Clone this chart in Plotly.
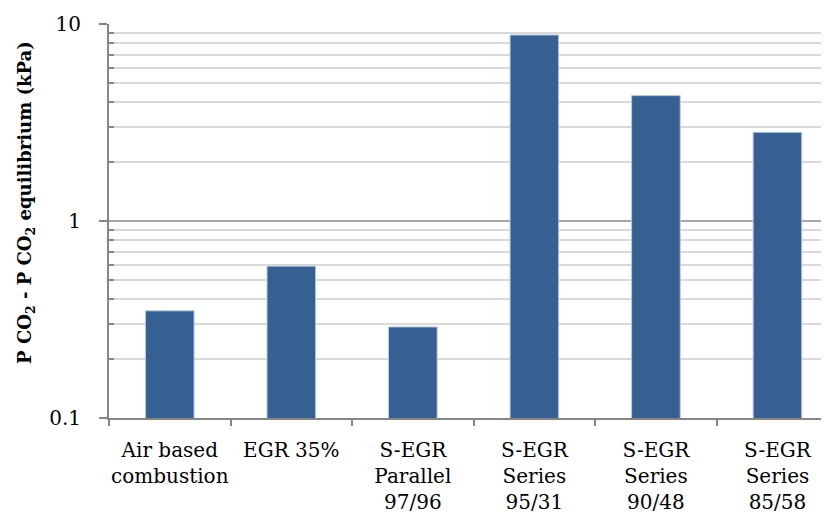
import plotly.graph_objects as go

categories = ["Air based<br>combustion", "EGR 35%", "S-EGR<br>Parallel<br>97/96",
              "S-EGR<br>Series<br>95/31", "S-EGR<br>Series<br>90/48", "S-EGR<br>Series<br>85/58"]
values = [0.35, 0.59, 0.29, 8.8, 4.33, 2.82]
major_ticks = [0.1, 1, 10]
major_labels = ["0.1", "1", "10"]
minor_ticks = [0.2, 0.3, 0.4, 0.5, 0.6, 0.7, 0.8, 0.9, 2, 3, 4, 5, 6, 7, 8, 9]
y_title = "<b>P CO<sub>2</sub> - P CO<sub>2</sub> equilibrium (kPa)</b>"

font_family = "DejaVu Serif"

fig = go.Figure(go.Bar(
    x=categories, y=values,
    marker=dict(color="rgb(54,96,146)", line=dict(color="rgb(185,201,221)", width=1)),
    width=0.4,
))

fig.update_layout(
    width=829, height=505,
    margin=dict(l=101, r=0, t=16, b=95),
    plot_bgcolor="white", paper_bgcolor="white",
    showlegend=False,
    font=dict(family=font_family, size=20, color="black"),
)
fig.add_annotation(
    text=y_title, xref="paper", yref="paper", x=-0.114, y=0.546,
    xanchor="center", yanchor="middle", textangle=-90, showarrow=False,
    font=dict(family=font_family, size=18, color="black"),
)
fig.update_xaxes(
    range=[-0.5, 5.49], automargin=False,
    showline=True, linecolor="#868686", linewidth=2,
    ticks="outside", tickson="boundaries", ticklen=6, tickcolor="#868686", tickwidth=2,
    showgrid=False, tickangle=0,
    tickfont=dict(size=20),
    ticklabelstandoff=13,
)
fig.update_yaxes(
    type="log", range=[-1, 1], automargin=False,
    tickmode="array", tickvals=major_ticks, ticktext=major_labels,
    showline=True, linecolor="#868686", linewidth=2,
    ticks="outside", ticklen=8, tickcolor="#868686", tickwidth=2,
    showgrid=True, gridcolor="#a6a6a6", gridwidth=2,
    minor=dict(tickmode="array", tickvals=minor_ticks, ticks="inside", ticklen=5,
               tickcolor="#868686", tickwidth=2, showgrid=True, gridcolor="#d9d9d9", gridwidth=2),
    tickfont=dict(size=20),
    ticklabelstandoff=14,
)
fig.write_html("out.html")
